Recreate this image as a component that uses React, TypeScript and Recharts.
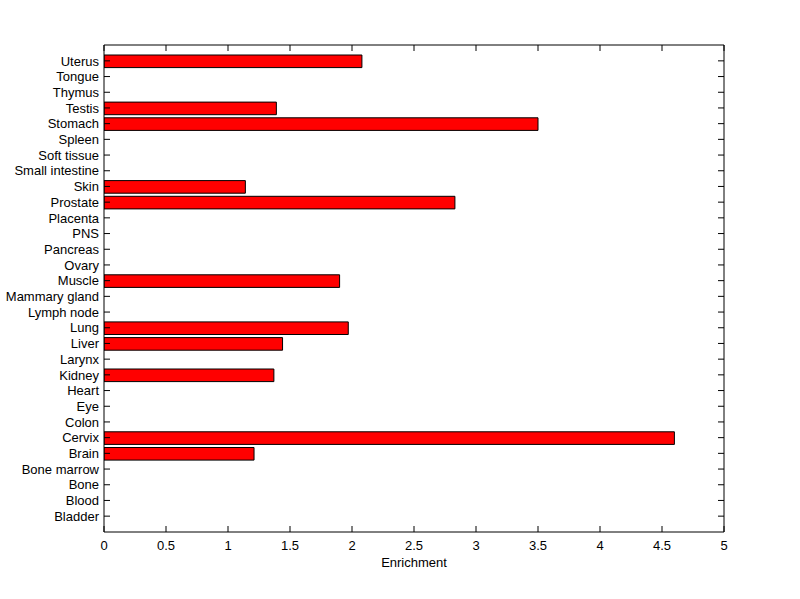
import React from 'react';
import { BarChart, Bar, XAxis, YAxis, Label } from 'recharts';

const tissues = [
  'Uterus', 'Tongue', 'Thymus', 'Testis', 'Stomach', 'Spleen', 'Soft tissue', 'Small intestine',
  'Skin', 'Prostate', 'Placenta', 'PNS', 'Pancreas', 'Ovary', 'Muscle', 'Mammary gland',
  'Lymph node', 'Lung', 'Liver', 'Larynx', 'Kidney', 'Heart', 'Eye', 'Colon', 'Cervix',
  'Brain', 'Bone marrow', 'Bone', 'Blood', 'Bladder',
];

const enrichment: (number | null)[] = [
  2.08, null, null, 1.39, 3.5, null, null, null,
  1.14, 2.83, null, null, null, null, 1.9, null,
  null, 1.97, 1.44, null, 1.37, null, null, null, 4.6,
  1.21, null, null, null, null,
];

const xTicks = [0, 0.5, 1, 1.5, 2, 2.5, 3, 3.5, 4, 4.5, 5];

const data = tissues.map((name, i) => ({ name, value: enrichment[i] }));

const FONT = '"Liberation Sans", Arial, sans-serif';
const tickStyle = { fontFamily: FONT, fontSize: 13, fill: '#000' };
const noTick = () => <g />;
const axisStroke = { stroke: '#000', strokeWidth: 1 };

const YLabelTick = (props: any) => {
  const { x, y, payload } = props;
  return (
    <text
      x={x}
      y={y}
      dy="0.36em"
      textAnchor="end"
      fontFamily={FONT}
      fontSize={13}
      fill="#000"
    >
      {payload.value}
    </text>
  );
};

export default function App() {
  return (
    <div style={{ position: 'absolute', left: 0, top: 0, background: '#fff' }}>
      <BarChart
        width={800}
        height={599}
        data={data}
        layout="vertical"
        margin={{ top: 45, right: 76, bottom: 32, left: 0 }}
        barSize={12.6}
      >
        <XAxis
          xAxisId="main"
          type="number"
          dataKey="value"
          domain={[0, 5]}
          ticks={xTicks}
          orientation="bottom"
          height={35}
          tickSize={0}
          tickMargin={9}
          tickLine={false}
          axisLine={axisStroke}
          tick={tickStyle}
          allowDataOverflow
        >
          <Label
            value="Enrichment"
            position="insideBottom"
            offset={0}
            style={{ fontFamily: FONT, fontSize: 13, fill: '#000' }}
          />
        </XAxis>
        <XAxis
          xAxisId="bm"
          type="number"
          dataKey="value"
          domain={[0, 5]}
          ticks={xTicks}
          orientation="bottom"
          mirror
          height={6}
          tickSize={6}
          tickLine={axisStroke}
          axisLine={false}
          tick={noTick}
          allowDataOverflow
        />
        <XAxis
          xAxisId="tm"
          type="number"
          dataKey="value"
          domain={[0, 5]}
          ticks={xTicks}
          orientation="top"
          mirror
          height={6}
          tickSize={6}
          tickLine={axisStroke}
          axisLine={axisStroke}
          tick={noTick}
          allowDataOverflow
        />
        <YAxis
          yAxisId="main"
          type="category"
          dataKey="name"
          orientation="left"
          width={104}
          interval={0}
          padding={{ top: 8, bottom: 8 }}
          tickSize={0}
          tickMargin={5}
          tickLine={false}
          axisLine={axisStroke}
          tick={YLabelTick}
        />
        <YAxis
          yAxisId="lm"
          type="category"
          dataKey="name"
          orientation="left"
          mirror
          width={6}
          interval={0}
          padding={{ top: 8, bottom: 8 }}
          tickSize={6}
          tickLine={axisStroke}
          axisLine={false}
          tick={noTick}
        />
        <YAxis
          yAxisId="rm"
          type="category"
          dataKey="name"
          orientation="right"
          mirror
          width={6}
          interval={0}
          padding={{ top: 8, bottom: 8 }}
          tickSize={6}
          tickLine={axisStroke}
          axisLine={axisStroke}
          tick={noTick}
        />
        <Bar
          dataKey="value"
          xAxisId="main"
          yAxisId="main"
          fill="#ff0000"
          stroke="#000"
          strokeWidth={1}
          isAnimationActive={false}
        />
      </BarChart>
    </div>
  );
}
